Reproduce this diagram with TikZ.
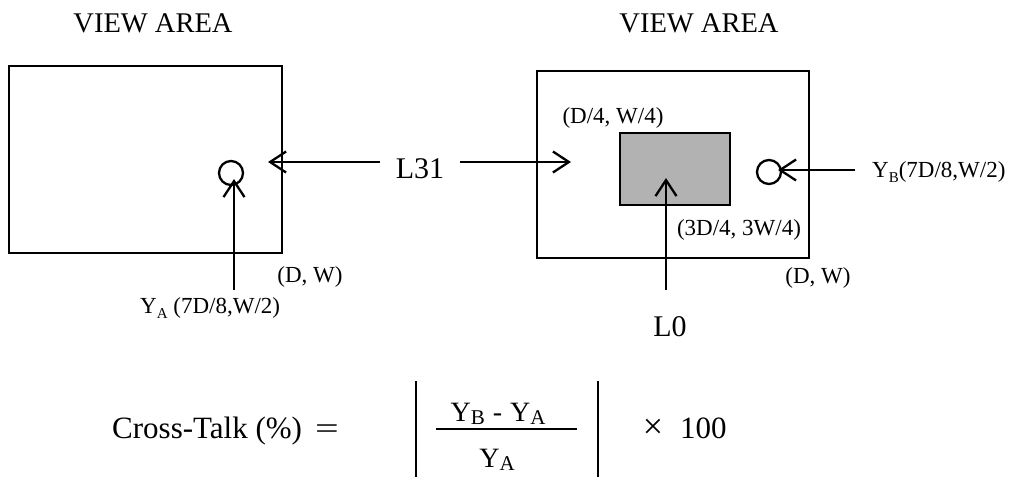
\documentclass[tikz,border=0pt]{standalone}
\usepackage{fontspec}
\setmainfont{Liberation Serif}
\usetikzlibrary{arrows.meta}
\newcommand{\lowidx}[1]{\raisebox{-5pt}{\fontsize{15}{15}\selectfont #1}}
\newcommand{\fracidx}[1]{\raisebox{-3pt}{\fontsize{21}{21}\selectfont #1}}
\tikzset{
	head/.style={font=\fontsize{28.5}{34}\selectfont, inner sep=0pt},
	big/.style={font=\fontsize{30}{36}\selectfont, inner sep=0pt},
	lbl/.style={font=\fontsize{23}{28}\selectfont, inner sep=0pt},
	frac/.style={font=\fontsize{28}{32}\selectfont, inner sep=0pt},
	panel/.style={draw, line width=2.5pt, inner sep=0pt},
	ring/.style={draw, circle, line width=2.3pt, minimum size=24pt, inner sep=0pt},
	arr/.style={line width=2.3pt, -{Straight Barb[length=16pt, width=21pt]}},
	bar/.style={line width=2.3pt},
}
\begin{document}
\begin{tikzpicture}[x=1pt, y=-1pt]
			\useasboundingbox (0,0) rectangle (1025,477);

			%%the two view areas
			\node[head] (headA) at (153,23){VIEW AREA};
			\node[head] (headB) at (699,23){VIEW AREA};
			\node[panel, minimum width=273pt, minimum height=187pt] (viewA) at (145.5,159.5){};
			\node[panel, minimum width=272pt, minimum height=187pt] (viewB) at (673,164.5){};
			\node[panel, fill=black!30, minimum width=110pt, minimum height=72pt] (patch) at (675,169){};

			%%measuring points
			\node[ring] (circA) at (231,173){};
			\node[ring] (circB) at (769,172){};

			%%corner labels
			\node[lbl] (cornerA) at (310,277){(D, W)};
			\node[lbl] (cornerB) at (818,278){(D, W)};
			\node[lbl] (topLeft) at (613,118){(D/4, W/4)};
			\node[lbl] (botRight) at (739,230){(3D/4, 3W/4)};
			\node[lbl, anchor=base west] (yaLabel) at (140,313){Y\lowidx{A} (7D/8,W/2)};
			\node[lbl, anchor=base west] (ybLabel) at (872,177){Y\lowidx{B}(7D/8,W/2)};

			%%luminance labels
			\node[big, inner xsep=16pt] (L31) at (420,169){L31};
			\node[big] (L0) at (670,327){L0};

			%%arrows
			\coordinate (tipL) at (268,162);
			\coordinate (tipR) at (571,162);
			\draw[arr] ([yshift=7pt]L31.west) to (tipL);
			\draw[arr] ([yshift=7pt]L31.east) to (tipR);
			\coordinate (footA) at (234,290);
			\coordinate (tipA) at (234,179);
			\draw[arr] (footA) to (tipA);
			\coordinate (footB) at (855,170);
			\coordinate (tipB) at (778,170);
			\draw[arr] (footB) to (tipB);
			\coordinate (footL0) at (666,290);
			\coordinate (tipL0) at (666,178);
			\draw[arr] (footL0) to (tipL0);

			%%the formula
			\node[big, font=\fontsize{31}{36}\selectfont, anchor=base west] (xtalk) at (112,438){Cross-Talk (\%)};
			\node[big, anchor=base] (eqsign) at (327,438){\scalebox{1.4}[1]{=}};
			\coordinate (barTopA) at (416,381);
			\coordinate (barBotA) at (416,477);
			\coordinate (barTopB) at (598,381);
			\coordinate (barBotB) at (598,477);
			\draw[bar] (barTopA) to (barBotA);
			\draw[bar] (barTopB) to (barBotB);
			\node[frac, anchor=base] (numer) at (498,421){Y\fracidx{B}\hspace{8pt}-\hspace{8pt}Y\fracidx{A}};
			\coordinate (fracL) at (436,429);
			\coordinate (fracR) at (577,429);
			\draw[bar] (fracL) to (fracR);
			\node[frac, anchor=base] (denom) at (497,467){Y\fracidx{A}};
			\node[big, font=\fontsize{36}{40}\selectfont, anchor=base] (times) at (653,438){×};
			\node[big, font=\fontsize{31}{36}\selectfont, anchor=base west] (hundred) at (680,438){100};
		\end{tikzpicture}
\end{document}
